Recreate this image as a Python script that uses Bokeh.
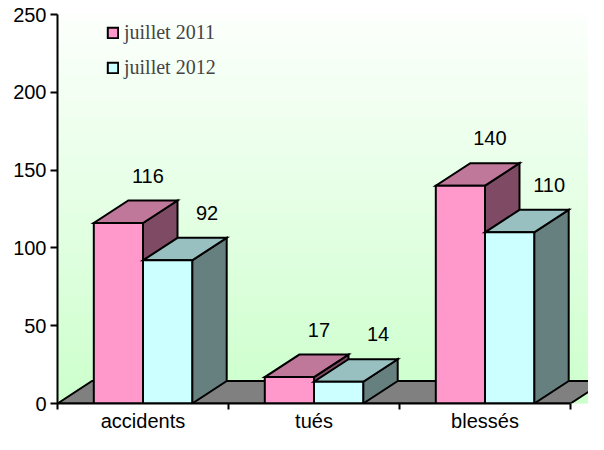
from bokeh.plotting import figure
from bokeh.models import Range1d, FixedTicker, Legend, LegendItem
from bokeh.core.properties import value
from bokeh.embed import file_html
from bokeh.resources import INLINE
import numpy as np

# ---- data ----
categories = ["accidents", "tués", "blessés"]
series_names = ["juillet 2011", "juillet 2012"]
values_2011 = [116, 17, 140]
values_2012 = [92, 14, 110]
y_ticks = [0, 50, 100, 150, 200, 250]

# ---- style ----
front_colors = ["#ff99cc", "#ccffff"]
top_colors = ["#c0789a", "#99c0c0"]
side_colors = ["#7f4a63", "#668080"]
SANS = "Liberation Sans"
SERIF = "Liberation Serif"

W, H = 588, 434
TOP, BOTTOM, LEFT = 14, 31, 57
FRAME_H = H - TOP - BOTTOM
p = figure(width=W, height=H, output_backend="svg", toolbar_location=None,
           x_range=Range1d(0, (W - LEFT) / 171.0), y_range=Range1d(0, 250),
           min_border_left=LEFT, min_border_right=0, min_border_top=TOP,
           min_border_bottom=BOTTOM)
p.outline_line_color = None
p.grid.visible = False
p.background_fill_color = "white"
p.border_fill_color = "white"

# gradient background (decoration)
n = 80
edges = np.linspace(0, 250, n + 1)
cols = []
for i in range(n):
    t = (i + 0.5) / n
    r = int(round(204 + (252 - 204) * t))
    cols.append("#%02x%02x%02x" % (r, 255, r))
p.quad(left=0, right=3.3, bottom=edges[:-1], top=edges[1:], fill_color=cols,
       line_color=cols, line_width=1)

# geometry
ncat = len(categories)
centers = [i + 0.5 for i in range(ncat)]
px_per_val = FRAME_H / 250.0
bw = 0.2877                  # bar width (category units)
ddx = 34.5 / 171.0           # depth offset x (category units)
ddy = 22.5 / px_per_val      # depth offset y (value units)

# floor
p.patch(x=[0, ncat, ncat + ddx, ddx], y=[0, 0, ddy, ddy], fill_color="#808080",
        line_color="black", line_width=2, line_join="miter")

front_renderers = []
for s, vals in enumerate([values_2011, values_2012]):
    x0 = [c - bw + s * bw for c in centers]
    x1 = [a + bw for a in x0]
    side_xs = [[b, b + ddx, b + ddx, b] for b in x1]
    side_ys = [[0, ddy, v + ddy, v] for v in vals]
    top_xs = [[a, b, b + ddx, a + ddx] for a, b in zip(x0, x1)]
    top_ys = [[v, v, v + ddy, v + ddy] for v in vals]
    p.patches(xs=side_xs, ys=side_ys, fill_color=side_colors[s], line_color="black",
              line_width=2, line_join="miter")
    p.patches(xs=top_xs, ys=top_ys, fill_color=top_colors[s], line_color="black",
              line_width=2, line_join="miter")
    fr = p.quad(left=x0, right=x1, bottom=0, top=vals, fill_color=front_colors[s],
                line_color="black", line_width=2, line_join="miter")
    front_renderers.append(fr)
    # value labels
    xc = [a + bw / 2 for a in x0]
    p.text(x=xc, y=vals, text=[str(v) for v in vals],
           x_offset=29.5 if s == 0 else 39.5, y_offset=-47.5,
           text_align="center", text_baseline="middle",
           text_font=value(SANS), text_font_size="20px", text_color="black")

# axes
xa = p.xaxis[0]
xa.ticker = FixedTicker(ticks=centers, minor_ticks=list(range(ncat + 1)))
xa.major_label_overrides = {c: lab for c, lab in zip(centers, categories)}
xa.major_tick_line_color = None
xa.major_tick_out = 6
xa.major_tick_in = 0
xa.minor_tick_out = 6
xa.minor_tick_in = 0
xa.minor_tick_line_color = "black"
xa.minor_tick_line_width = 2
xa.major_label_standoff = 0
xa.axis_line_width = 2
xa.axis_line_color = "black"
xa.bounds = (0, ncat)
xa.major_label_text_font = SANS
xa.major_label_text_font_size = "20px"
xa.major_label_text_color = "black"

ya = p.yaxis[0]
ya.ticker = FixedTicker(ticks=y_ticks, minor_ticks=[])
ya.major_tick_out = 7
ya.major_tick_in = 0
ya.major_tick_line_width = 2
ya.major_tick_line_color = "black"
ya.axis_line_width = 2
ya.axis_line_color = "black"
ya.major_label_standoff = 4
ya.major_label_text_font = SANS
ya.major_label_text_font_size = "20px"
ya.major_label_text_color = "black"

legend_h = 24 + 11 + 24
legend_top = 6   # below frame top
legend = Legend(items=[LegendItem(label=series_names[i], renderers=[front_renderers[i]])
                       for i in range(2)],
                location=(49, FRAME_H - legend_top - legend_h), margin=0, padding=0,
                spacing=11, glyph_width=13, glyph_height=13, label_height=24,
                label_standoff=5, label_text_font=SERIF, label_text_font_size="20px",
                background_fill_alpha=0, border_line_color=None)
p.add_layout(legend, "center")

open("out.html", "w").write(file_html(p, INLINE))
